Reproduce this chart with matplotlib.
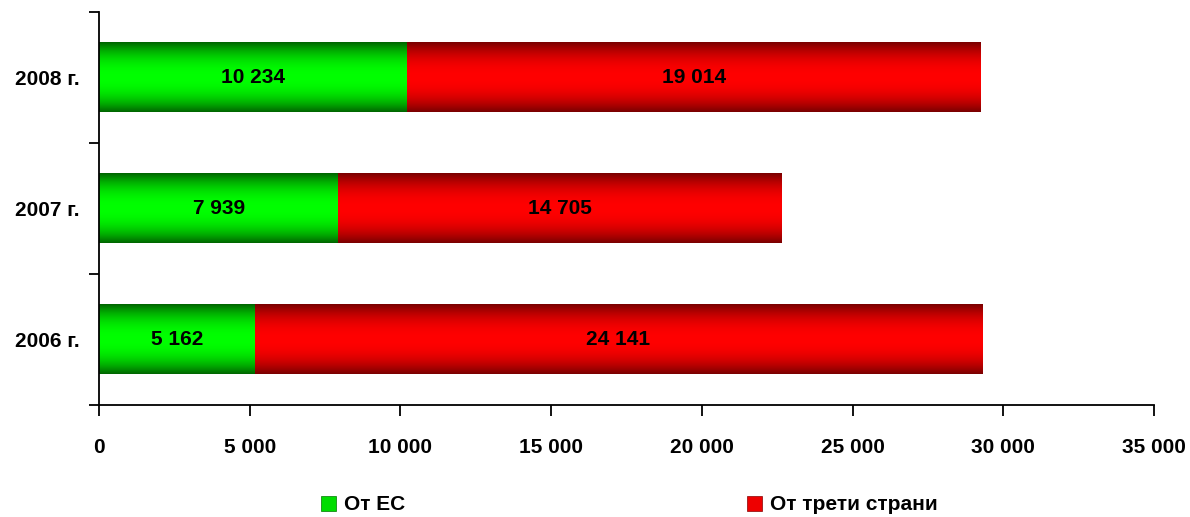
import numpy as np
import matplotlib
matplotlib.use('Agg')
import matplotlib.pyplot as plt
from matplotlib.patches import Patch

years = ['2006 г.', '2007 г.', '2008 г.']
ot_es = [5162, 7939, 10234]
ot_treti = [24141, 14705, 19014]
x_ticks = [0, 5000, 10000, 15000, 20000, 25000, 30000, 35000]

plt.rcParams['font.family'] = ['Liberation Sans', 'DejaVu Sans']
plt.rcParams['font.weight'] = 'bold'
FS = 15


def fmt(v):
    return f'{v:,}'.replace(',', ' ')


def gradient(dark, bright, n=256):
    t = np.linspace(0, 1, n)
    f = 1 - np.abs(2 * t - 1) ** 2.2
    dark = np.array(dark) / 255
    bright = np.array(bright) / 255
    cols = dark[None, :] + (bright - dark)[None, :] * f[:, None]
    return cols[:, None, :]


fig = plt.figure(figsize=(11.9, 5.17), dpi=100)
ax = fig.add_axes([99 / 1190, 1 - 405 / 517, 1055 / 1190, 393 / 517])

y = np.arange(len(years))
h = 0.53
bars1 = ax.barh(y, ot_es, height=h, color='#00ff00', linewidth=0)
bars2 = ax.barh(y, ot_treti, left=ot_es, height=h, color='#ff0000', linewidth=0)

# degrade vertical dans chaque barre
green_grad = gradient((0, 100, 0), (0, 255, 0))
red_grad = gradient((120, 0, 0), (255, 0, 0))
for bars, grad in [(bars1, green_grad), (bars2, red_grad)]:
    for b in bars:
        x0, y0 = b.get_x(), b.get_y()
        w, hh = b.get_width(), b.get_height()
        ax.imshow(grad, extent=[x0, x0 + w, y0, y0 + hh], aspect='auto',
                  origin='lower', zorder=2, interpolation='bilinear')

for i in range(len(years)):
    ax.text(ot_es[i] / 2, y[i], fmt(ot_es[i]), ha='center', va='center',
            fontsize=FS, fontweight='bold', zorder=3)
    ax.text(ot_es[i] + ot_treti[i] / 2, y[i], fmt(ot_treti[i]), ha='center',
            va='center', fontsize=FS, fontweight='bold', zorder=3)

ax.set_xlim(0, 35000)
ax.set_ylim(-0.5, len(years) - 0.5)
ax.set_xticks(x_ticks)
ax.set_xticklabels([fmt(v) for v in x_ticks], fontsize=FS, fontweight='bold')
ax.set_yticks(y)
ax.set_yticklabels(years, fontsize=FS, fontweight='bold')
ax.set_yticks(np.arange(-0.5, len(years), 1), minor=True)
ax.tick_params(axis='y', which='major', length=0, pad=14)
ax.tick_params(axis='y', which='minor', length=7, width=1.3, direction='out')
ax.tick_params(axis='x', length=8, width=1.3, direction='out', pad=16)
for s in ['top', 'right']:
    ax.spines[s].set_visible(False)
for s in ['left', 'bottom']:
    ax.spines[s].set_linewidth(1.3)

handles = [Patch(facecolor='#00dd00', edgecolor='#007700', linewidth=0.5),
           Patch(facecolor='#ee0000', edgecolor='#880000', linewidth=0.5)]
fig.legend(handles, ['От ЕС', 'От трети страни'], loc='center',
           bbox_to_anchor=(629 / 1190, 1 - 505 / 517), ncol=2, frameon=False,
           fontsize=FS, handlelength=0.75, handleheight=0.75, handletextpad=0.35,
           columnspacing=16.4, borderpad=0.2)

fig.savefig('out.png', dpi=100)
